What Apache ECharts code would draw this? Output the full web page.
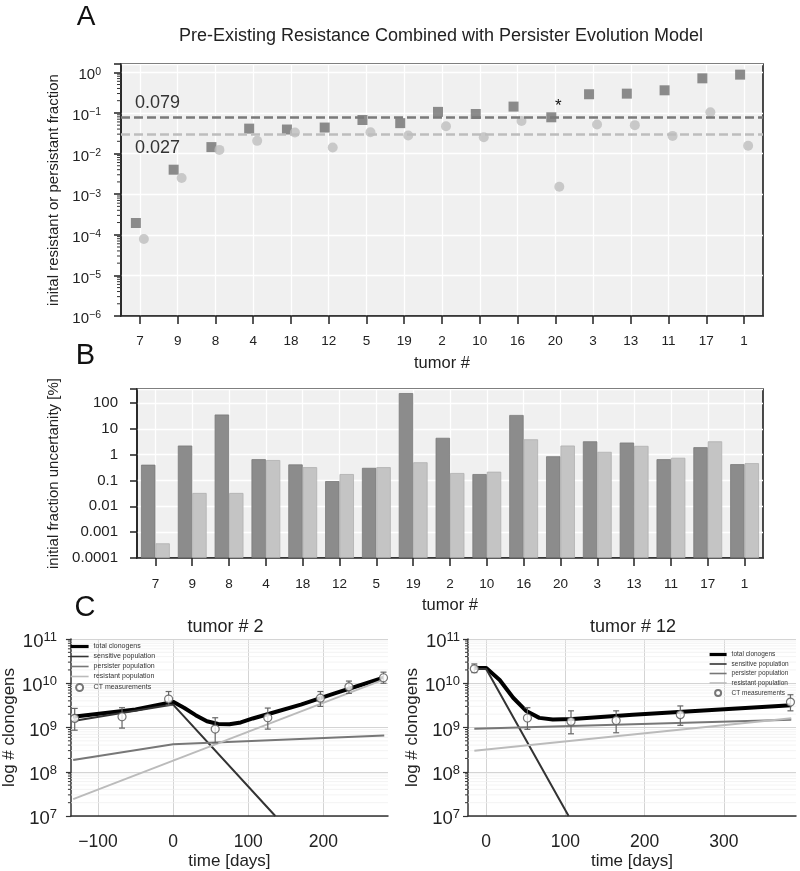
<!DOCTYPE html>
<html><head><meta charset="utf-8">
<script src="https://cdn.jsdelivr.net/npm/echarts@6/dist/echarts.min.js"></script>
<style>html,body{margin:0;padding:0;background:#fff}#c{width:800px;height:871px}</style>
</head><body><div id="c"></div>
<script>
// ---------------- data ----------------
const tumors = ['7','9','8','4','18','12','5','19','2','10','16','20','3','13','11','17','1'];
const persisterFraction = [1.95e-4, 4.0e-3, 0.0144, 0.041, 0.039, 0.0436, 0.067, 0.056, 0.106, 0.094, 0.143, 0.078, 0.288, 0.298, 0.36, 0.71, 0.875];
const resistantFraction = [7.9e-5, 2.5e-3, 0.0123, 0.0205, 0.033, 0.0141, 0.0335, 0.0277, 0.047, 0.0252, 0.063, 1.52e-3, 0.052, 0.050, 0.0272, 0.104, 0.0155];
const medianLines = [0.079, 0.027];
const starTumor = '20';
const persisterUncert = [0.41, 2.26, 36, 0.67, 0.42, 0.095, 0.31, 243, 4.5, 0.178, 34.5, 0.87, 3.3, 2.95, 0.67, 1.95, 0.43];
const resistantUncert = [3.7e-4, 0.033, 0.033, 0.62, 0.33, 0.178, 0.33, 0.51, 0.195, 0.22, 3.95, 2.26, 1.29, 2.2, 0.76, 3.3, 0.47];

// tumor # 2  [day, clonogens]
const t2Total = [[-133,1.75e9],[-50,2.55e9],[0,3.8e9],[15,2.75e9],[30,1.9e9],[45,1.38e9],[60,1.2e9],[75,1.18e9],[90,1.3e9],[106,1.6e9],[128,2.05e9],[170,3.3e9],[215,5.9e9],[280,1.33e10]];
const t2Sensitive = [[-133,1.4e9],[0,3.3e9],[136,1e7]];
const t2Persister = [[-133,1.85e8],[0,4.2e8],[281,6.6e8]];
const t2Resistant = [[-133,2.4e7],[281,1.22e10]];
// [day, value, low, high]
const t2CT = [[-131,1.6e9,8.7e8,2.7e9],[-68,1.75e9,9.7e8,2.8e9],[-6,4.4e9,3.2e9,6.5e9],[56,9.2e8,4.5e8,1.66e9],[126,1.66e9,9.2e8,2.75e9],[196,4.6e9,3.0e9,6.5e9],[234,8.3e9,5.9e9,1.12e10],[280,1.33e10,1.0e10,1.78e10]];

// tumor # 12
const t12Total = [[-15,2.2e10],[0,2.2e10],[17,1.18e10],[34,4.7e9],[50,2.4e9],[67,1.65e9],[84,1.52e9],[109,1.55e9],[185,1.95e9],[269,2.4e9],[385,3.2e9]];
const t12Sensitive = [[-15,2.1e10],[0,2.1e10],[104,1e7]];
const t12Persister = [[-15,9.4e8],[385,1.5e9]];
const t12Resistant = [[-15,3.0e8],[385,1.62e9]];
const t12CT = [[-15,2.12e10,1.74e10,2.73e10],[52,1.64e9,9.1e8,2.8e9],[107,1.37e9,7.2e8,2.38e9],[164,1.44e9,7.6e8,2.38e9],[245,1.95e9,1.12e9,3.07e9],[384,3.76e9,2.38e9,5.5e9]];

const lineNames = ['total clonogens','sensitive population','persister population','resistant population'];
const ctName = 'CT measurements';

// ---------------- helpers ----------------
const FONT = "'Liberation Sans', Arial, Helvetica, sans-serif";
const INK = '#222';
function isPow10(v){ const l = Math.log10(v); return Math.abs(l - Math.round(l)) < 1e-6; }
function powLabel(v){
  if (!isPow10(v)) return '';
  const k = Math.round(Math.log10(v));
  return '{b|10}{s|' + (k < 0 ? '\u2212' + (-k) : k) + '}';
}
function decLabel(v){
  if (!isPow10(v)) return '';
  const k = Math.round(Math.log10(v));
  if (k >= 0) return String(Math.pow(10, k));
  return '0.' + '0'.repeat(-k - 1) + '1';
}
function dayLabel(v){
  if (Math.abs(v % 100) > 1e-9) return '';
  return v < 0 ? '\u2212' + (-v) : String(v);
}
function minorVals(lo, hi){
  const out = [];
  for (let k = lo; k < hi; k++) for (let m = 2; m <= 9; m++) out.push(m * Math.pow(10, k));
  return out;
}
function minorSeries(idx, x0, vals, tickLen, withGrid){
  return {
    type: 'custom', xAxisIndex: idx, yAxisIndex: idx, silent: true, clip: false, z: 1,
    data: vals.map(v => [x0, v]), encode: {x: 0, y: 1},
    renderItem: function(params, api){
      const cs = params.coordSys;
      const y = api.coord([api.value(0), api.value(1)])[1];
      const ch = [{type: 'line', shape: {x1: cs.x - tickLen, y1: y, x2: cs.x, y2: y}, style: {stroke: '#333', lineWidth: 1}}];
      if (withGrid) ch.unshift({type: 'line', shape: {x1: cs.x, y1: y, x2: cs.x + cs.width, y2: y}, style: {stroke: '#f0f0f0', lineWidth: 0.8}});
      return {type: 'group', children: ch};
    }
  };
}
function errSeries(idx, rows){
  return {
    type: 'custom', xAxisIndex: idx, yAxisIndex: idx, silent: true, z: 4,
    data: rows.map(r => [r[0], r[2], r[3]]), encode: {x: 0, y: [1, 2]},
    renderItem: function(params, api){
      const x = api.value(0);
      const a = api.coord([x, api.value(1)]);
      const b = api.coord([x, api.value(2)]);
      const st = {stroke: '#666', lineWidth: 1.2};
      return {type: 'group', children: [
        {type: 'line', shape: {x1: a[0], y1: a[1], x2: b[0], y2: b[1]}, style: st},
        {type: 'line', shape: {x1: a[0] - 3, y1: a[1], x2: a[0] + 3, y2: a[1]}, style: st},
        {type: 'line', shape: {x1: b[0] - 3, y1: b[1], x2: b[0] + 3, y2: b[1]}, style: st}
      ]};
    }
  };
}
function lineSeries(idx, name, data, color, width){
  return {type: 'line', name: name, xAxisIndex: idx, yAxisIndex: idx, data: data, symbol: 'none',
    lineStyle: {color: color, width: width}, itemStyle: {color: color}, z: 3, silent: true};
}
function ctSeries(idx, rows){
  return {type: 'scatter', name: ctName, xAxisIndex: idx, yAxisIndex: idx,
    data: rows.map(r => [r[0], r[1]]), symbol: 'circle', symbolSize: 8, z: 5, silent: true,
    itemStyle: {color: '#ffffff', borderColor: '#555', borderWidth: 1.2}};
}
function legendData(){
  return lineNames.map((n, i) => ({name: n, itemStyle: {opacity: 0}, lineStyle: {width: i === 0 ? 3.2 : 1.6}}))
    .concat([{name: ctName}]);
}

const richA = {b: {fontSize: 15, color: INK, fontFamily: FONT, lineHeight: 18}, s: {fontSize: 10.5, color: INK, fontFamily: FONT, lineHeight: 4, verticalAlign: 'top'}};
const richC = {b: {fontSize: 18.5, color: INK, fontFamily: FONT, lineHeight: 22}, s: {fontSize: 13, color: INK, fontFamily: FONT, lineHeight: 4, verticalAlign: 'top'}};

function catAxis(gi, margin){
  return {type: 'category', gridIndex: gi, data: tumors, boundaryGap: true,
    name: 'tumor #', nameLocation: 'middle', nameGap: 39, nameTextStyle: {fontSize: 16.5, color: INK, fontFamily: FONT},
    axisLine: {show: true, lineStyle: {color: INK, width: 1.5}},
    axisTick: {show: true, alignWithLabel: true, length: 8, lineStyle: {color: INK, width: 1.5}},
    axisLabel: {fontSize: 13.5, color: INK, margin: margin, fontFamily: FONT},
    splitLine: {show: true, alignWithLabel: true, lineStyle: {color: '#ffffff', width: 1.3}}};
}
function timeAxis(gi, lo, hi){
  return {type: 'value', gridIndex: gi, min: lo, max: hi, splitNumber: 4,
    name: 'time [days]', nameLocation: 'middle', nameGap: 37, nameTextStyle: {fontSize: 17, color: INK, fontFamily: FONT},
    axisLine: {show: true, onZero: false, lineStyle: {color: '#333', width: 1.5}}, axisTick: {show: false},
    axisLabel: {formatter: dayLabel, fontSize: 17.5, color: INK, margin: 17, fontFamily: FONT},
    splitLine: {show: true, showMinLine: false, showMaxLine: false, lineStyle: {color: '#d4d4d4', width: 1}}};
}
function clonAxis(gi, gap, margin){
  return {type: 'log', gridIndex: gi, min: 1e7, max: 1e11, splitNumber: 4,
    name: 'log # clonogens', nameLocation: 'middle', nameGap: gap, nameTextStyle: {fontSize: 17, color: INK, fontFamily: FONT},
    axisLine: {show: true, onZero: false, lineStyle: {color: '#333', width: 1.5}},
    axisTick: {show: true, length: 5, lineStyle: {color: '#333', width: 1.2}},
    axisLabel: {formatter: powLabel, rich: richC, margin: margin, padding: [6, 0, 0, 0]},
    splitLine: {show: true, lineStyle: {color: '#d4d4d4', width: 1}}};
}

// ---------------- option ----------------
const chart = echarts.init(document.getElementById('c'), null, {renderer: 'canvas', width: 800, height: 871});
const option = {
  animation: false,
  backgroundColor: '#ffffff',
  textStyle: {fontFamily: FONT},
  grid: [
    {left: 121, top: 64, width: 642, height: 252, show: true, backgroundColor: '#f0f0f0', borderColor: '#1e1e1e', borderWidth: 1.6, containLabel: false},
    {left: 137, top: 389, width: 626, height: 169, show: true, backgroundColor: '#f0f0f0', borderColor: '#1e1e1e', borderWidth: 1.6, containLabel: false},
    {left: 64, top: 639, width: 324, height: 182, show: false, containLabel: false},
    {left: 468, top: 639, width: 328, height: 183, show: false, containLabel: false}
  ],
  xAxis: [
    catAxis(0, 18),
    catAxis(1, 19),
    timeAxis(2, -136, 286),
    timeAxis(3, -23, 391)
  ],
  yAxis: [
    {type: 'log', gridIndex: 0, min: 1e-6, max: 1.6, splitNumber: 6,
      name: 'inital resistant or persistant fraction', nameLocation: 'middle', nameGap: 58, nameTextStyle: {fontSize: 15, color: INK, fontFamily: FONT},
      axisLine: {show: true, onZero: false, lineStyle: {color: INK, width: 1.5}},
      axisTick: {show: true, length: 7, lineStyle: {color: INK, width: 1.5}},
      axisLabel: {formatter: powLabel, rich: richA, margin: 20, padding: [6, 0, 0, 0]},
      splitLine: {show: true, lineStyle: {color: '#ffffff', width: 1.3}}},
    {type: 'log', gridIndex: 1, min: 1e-4, max: 350, startValue: 1e-4, splitNumber: 6,
      name: 'initial fraction uncertanity [%]', nameLocation: 'middle', nameGap: 72, nameTextStyle: {fontSize: 15, color: INK, fontFamily: FONT},
      axisLine: {show: true, onZero: false, lineStyle: {color: INK, width: 1.5}},
      axisTick: {show: true, length: 7, lineStyle: {color: INK, width: 1.5}},
      axisLabel: {formatter: decLabel, fontSize: 15, color: INK, margin: 19, fontFamily: FONT},
      splitLine: {show: true, lineStyle: {color: '#ffffff', width: 1.3}}},
    clonAxis(2, 42, 14),
    clonAxis(3, 45, 8)
  ],
  legend: [
    {left: 69, top: 643, orient: 'vertical', padding: 0, itemWidth: 18, itemHeight: 7, itemGap: 3, selectedMode: false,
      textStyle: {fontSize: 7, color: '#333', fontFamily: FONT}, data: legendData()},
    {left: 708, top: 651, orient: 'vertical', padding: 0, itemWidth: 17, itemHeight: 6, itemGap: 2.5, selectedMode: false,
      textStyle: {fontSize: 6.5, color: '#333', fontFamily: FONT}, data: legendData()}
  ],
  graphic: [
    {type: 'text', x: 86, y: 17, style: {text: 'A', fontSize: 28, fontFamily: FONT, fill: '#111', align: 'center', verticalAlign: 'middle'}},
    {type: 'text', x: 441, y: 36, style: {text: 'Pre-Existing Resistance Combined with Persister Evolution Model', fontSize: 18, fontFamily: FONT, fill: INK, align: 'center', verticalAlign: 'middle'}},
    {type: 'text', x: 85.5, y: 356, style: {text: 'B', fontSize: 29, fontFamily: FONT, fill: '#111', align: 'center', verticalAlign: 'middle'}},
    {type: 'text', x: 85, y: 608, style: {text: 'C', fontSize: 29, fontFamily: FONT, fill: '#111', align: 'center', verticalAlign: 'middle'}},
    {type: 'text', x: 225.5, y: 627, style: {text: 'tumor # 2', fontSize: 18, fontFamily: FONT, fill: INK, align: 'center', verticalAlign: 'middle'}},
    {type: 'text', x: 633, y: 627, style: {text: 'tumor # 12', fontSize: 18, fontFamily: FONT, fill: INK, align: 'center', verticalAlign: 'middle'}}
  ],
  series: [
    minorSeries(0, 0, minorVals(-6, 0), 4, false),
    {type: 'scatter', name: 'persister', xAxisIndex: 0, yAxisIndex: 0, data: persisterFraction,
      symbol: 'rect', symbolSize: 10, symbolOffset: [-4, 0], itemStyle: {color: '#707070'}, z: 3, silent: true,
      markLine: {silent: true, symbol: 'none', data: [{yAxis: medianLines[0]}],
        lineStyle: {type: [9, 4], color: '#7a7a7a', width: 2.5},
        label: {show: true, position: 'insideStartTop', formatter: String(medianLines[0]), fontSize: 18, color: '#333', fontFamily: FONT, distance: [14, 5]}},
      markPoint: {silent: true, data: [{coord: [starTumor, persisterFraction[tumors.indexOf(starTumor)]], symbol: 'circle', symbolSize: 0,
        label: {show: true, formatter: '*', fontSize: 17, color: '#111', fontFamily: FONT, offset: [3, -11]}}]}},
    {type: 'scatter', name: 'resistant', xAxisIndex: 0, yAxisIndex: 0, data: resistantFraction,
      symbol: 'circle', symbolSize: 10, symbolOffset: [4, 0], itemStyle: {color: '#bebebe'}, z: 4, silent: true,
      markLine: {silent: true, symbol: 'none', data: [{yAxis: medianLines[1]}],
        lineStyle: {type: [9, 4], color: '#bdbdbd', width: 2.5},
        label: {show: true, position: 'insideStartBottom', formatter: String(medianLines[1]), fontSize: 18, color: '#333', fontFamily: FONT, distance: [14, 5]}}},
    {type: 'bar', name: 'persister unc', xAxisIndex: 1, yAxisIndex: 1, data: persisterUncert, barWidth: 14.4, barGap: '0%', silent: true,
      itemStyle: {color: '#8c8c8c', borderColor: '#7a7a7a', borderWidth: 0.8}},
    {type: 'bar', name: 'resistant unc', xAxisIndex: 1, yAxisIndex: 1, data: resistantUncert, barWidth: 14.4, barGap: '0%', silent: true,
      itemStyle: {color: '#c4c4c4', borderColor: '#b0b0b0', borderWidth: 0.8}},

    minorSeries(2, -136, minorVals(7, 11), 3, true),
    lineSeries(2, lineNames[0], t2Total, '#000000', 4),
    lineSeries(2, lineNames[1], t2Sensitive, '#333333', 2),
    lineSeries(2, lineNames[2], t2Persister, '#777777', 2),
    lineSeries(2, lineNames[3], t2Resistant, '#bbbbbb', 2),
    errSeries(2, t2CT),
    ctSeries(2, t2CT),

    minorSeries(3, -23, minorVals(7, 11), 3, true),
    lineSeries(3, lineNames[0], t12Total, '#000000', 4),
    lineSeries(3, lineNames[1], t12Sensitive, '#333333', 2),
    lineSeries(3, lineNames[2], t12Persister, '#777777', 2),
    lineSeries(3, lineNames[3], t12Resistant, '#bbbbbb', 2),
    errSeries(3, t12CT),
    ctSeries(3, t12CT)
  ]
};
chart.setOption(option);
</script>
</body></html>
